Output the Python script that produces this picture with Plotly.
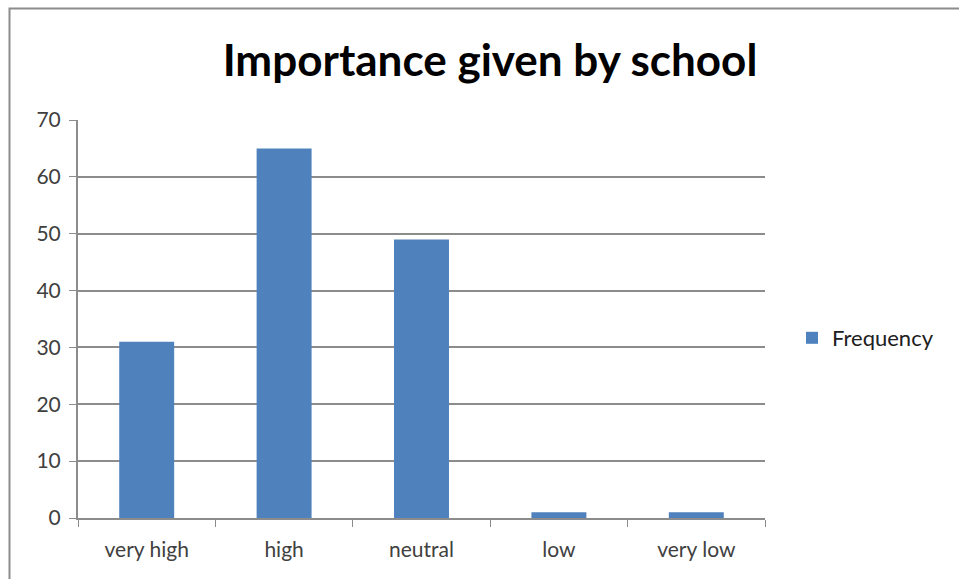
import plotly.graph_objects as go

categories = ["very high", "high", "neutral", "low", "very low"]
frequency = [31, 65, 49, 1, 1]
y_ticks = [0, 10, 20, 30, 40, 50, 60, 70]

W, H = 959, 579
L, R, T, B = 78, 765, 120, 518

fig = go.Figure()
fig.add_trace(go.Bar(
    x=categories, y=frequency, name="Frequency",
    marker=dict(color="#4F81BD", line=dict(width=0)),
    width=0.4,
))

def px_to_paper_x(px):
    return (px - L) / (R - L)

def px_to_paper_y(py):
    return (B - py) / (B - T)

fig.add_shape(type="rect", xref="paper", yref="paper",
              x0=px_to_paper_x(9.5), x1=px_to_paper_x(975),
              y0=px_to_paper_y(590), y1=px_to_paper_y(8.5),
              line=dict(color="#8c8c8c", width=2), layer="below")

fig.update_layout(
    width=W, height=H,
    margin=dict(l=L, r=W - R, t=T, b=H - B, pad=0),
    paper_bgcolor="white", plot_bgcolor="white",
    title=dict(text="<b>Importance given by school</b>",
               x=490 / W, xanchor="center",
               y=1 - 61 / H, yanchor="middle",
               font=dict(family="Lato", size=44, color="black")),
    font=dict(family="Lato", size=21, color="#404040"),
    showlegend=True,
    legend=dict(x=px_to_paper_x(792), y=px_to_paper_y(338), xanchor="left", yanchor="middle",
                font=dict(size=22, color="#202020"), bgcolor="rgba(0,0,0,0)"),
    bargap=0.6,
)
fig.update_xaxes(
    type="category", tickson="boundaries", ticks="outside", ticklen=7,
    tickcolor="#8c8c8c", showline=True, linecolor="#8c8c8c", linewidth=2,
    showgrid=False, tickfont=dict(size=21, color="#404040"),
    ticklabelstandoff=12,
)
fig.update_yaxes(
    range=[0, 70], tickvals=y_ticks, ticks="outside", ticklen=7,
    tickcolor="#8c8c8c", showline=True, linecolor="#8c8c8c", linewidth=2,
    showgrid=True, gridcolor="#8c8c8c", gridwidth=1.5, zeroline=False,
    tickfont=dict(size=21, color="#404040"), ticklabelstandoff=4,
)

fig.write_html("out.html")
